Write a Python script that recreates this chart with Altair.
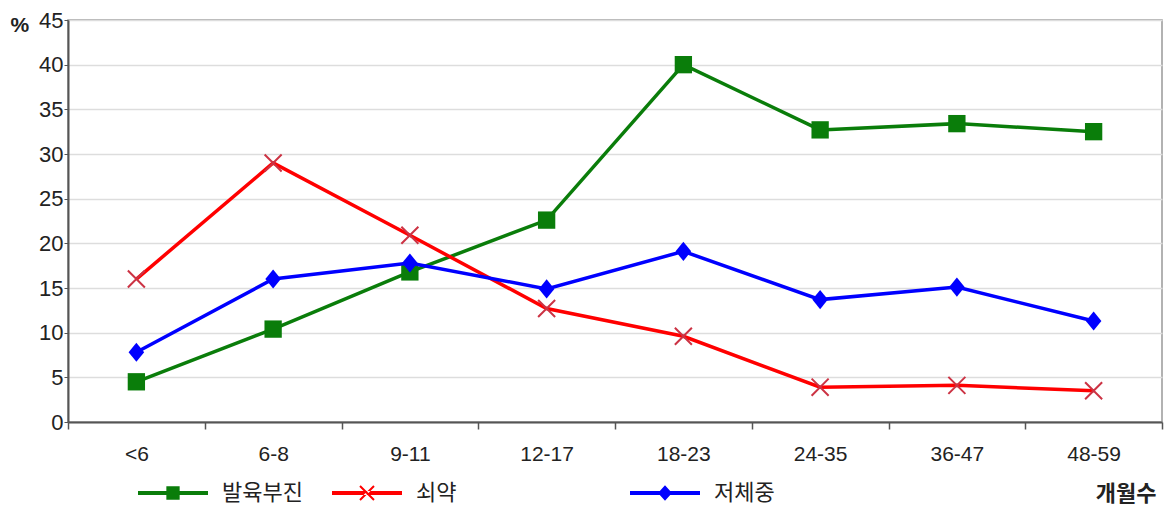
import altair as alt
import pandas as pd

# Age groups in months
age_groups = ["<6", "6-8", "9-11", "12-17", "18-23", "24-35", "36-47", "48-59"]

# Prevalence (%) by age group
stunting = [4.5, 10.4, 16.8, 22.6, 40.0, 32.7, 33.4, 32.5]   # 발육부진
wasting = [16.0, 29.0, 20.9, 12.7, 9.6, 3.9, 4.1, 3.5]       # 쇠약
underweight = [7.8, 16.0, 17.8, 14.9, 19.1, 13.7, 15.1, 11.3]  # 저체중

series_names = ["발육부진", "쇠약", "저체중"]
series_values = [stunting, wasting, underweight]
series_colors = ["#0a7d0a", "#ff0000", "#0000ff"]
marker_colors = ["#0a7d0a", "#cc3344", "#0000ff"]

rows = []
for name, vals in zip(series_names, series_values):
    for g, v in zip(age_groups, vals):
        rows.append({"age": g, "pct": v, "series": name})
df = pd.DataFrame(rows)

NUM_FONT = "Liberation Sans"
KR_FONT = "Noto Sans CJK KR"

x_enc = alt.X(
    "age:N",
    sort=age_groups,
    bandPosition=0.5,
    scale=alt.Scale(type="band", domain=age_groups, paddingInner=0, paddingOuter=0),
    axis=alt.Axis(
        title="개월수",
        titleFont=KR_FONT,
        titleFontSize=22,
        titleFontWeight="bold",
        titleColor="#222222",
        titleAlign="right",
        titleBaseline="middle",
        titleAnchor="end",
        titleX=1088,
        titleY=71,
        labelFont=NUM_FONT,
        labelFontSize=21,
        labelColor="#222222",
        labelPadding=14,
        labelAngle=0,
        tickBand="extent",
        tickSize=7,
        tickColor="#555555",
        tickWidth=1.5,
        domainColor="#555555",
        domainWidth=2,
        grid=False,
    ),
)

y_enc = alt.Y(
    "pct:Q",
    scale=alt.Scale(domain=[0, 45], nice=False),
    axis=alt.Axis(
        title="%",
        titleFont=NUM_FONT,
        titleFontSize=21,
        titleFontWeight="bold",
        titleColor="#222222",
        titleAngle=0,
        titleAlign="left",
        titleBaseline="top",
        titleX=-58,
        titleY=-6,
        values=list(range(0, 46, 5)),
        labelFont=NUM_FONT,
        labelFontSize=22,
        labelColor="#222222",
        labelPadding=1,
        tickSize=4,
        tickColor="#555555",
        domainColor="#555555",
        domainWidth=2,
        gridColor="#dddddd",
        gridWidth=1.5,
    ),
)

# Marker glyphs for the chart and combined line+marker glyphs for the legend
square_m = "M-1,-1H1V1H-1Z"
diamond_m = "M0,-1.1L0.9,0L0,1.1L-0.9,0Z"
x_m = "M-1,-1L1,1M1,-1L-1,1"
chart_shapes = [square_m, x_m, diamond_m]
chart_sizes = [300, 290, 300]

bar = "M-1,-0.06H1V0.06H-1Z"
legend_paths = [
    bar + " M-0.19,-0.19H0.19V0.19H-0.19Z",
    bar + " M-0.22,-0.18L-0.18,-0.22L0.22,0.18L0.18,0.22Z M0.22,-0.18L0.18,-0.22L-0.22,0.18L-0.18,0.22Z",
    bar + " M0,-0.22L0.2,0L0,0.22L-0.2,0Z",
]

base = alt.Chart(df)
layers = []
for name, lcol, mcol, shp, sz in zip(series_names, series_colors, marker_colors,
                                     chart_shapes, chart_sizes):
    sub = base.transform_filter(alt.datum.series == name)
    layers.append(sub.mark_line(strokeWidth=3.5, color=lcol).encode(x=x_enc, y=y_enc))
    if shp == x_m:
        pts = sub.mark_point(shape=shp, filled=False, size=sz, strokeWidth=2,
                             color=mcol, opacity=1)
    else:
        pts = sub.mark_point(shape=shp, filled=True, size=sz, color=mcol,
                             opacity=1, strokeWidth=0)
    layers.append(pts.encode(x=x_enc, y=y_enc))


def legend_part(entries, lx, pad):
    # Legend-only layer: no rows survive the filter; entries come from the scale domain
    return base.transform_filter("false").mark_point(filled=True, opacity=1).encode(
        x=x_enc,
        y=y_enc,
        color=alt.Color(
            "series:N",
            scale=alt.Scale(domain=series_names, range=series_colors),
            legend=alt.Legend(
                title=None,
                values=entries,
                orient="none",
                legendX=lx,
                legendY=438,
                direction="horizontal",
                columns=len(entries),
                columnPadding=pad,
                symbolSize=4900,
                symbolStrokeWidth=0,
                symbolOpacity=1,
                labelFont=KR_FONT,
                labelFontSize=22,
                labelColor="#222222",
                labelOffset=14,
                labelLimit=200,
                padding=0,
            ),
        ),
        shape=alt.Shape("series:N", scale=alt.Scale(domain=series_names, range=legend_paths)),
    )


legend_a = legend_part(series_names[:2], 70, 29)
legend_b = legend_part(series_names[2:], 562, 29)

chart = (
    alt.layer(*layers, legend_a, legend_b)
    .resolve_scale(color="independent", shape="independent")
    .properties(
        width=1094,
        height=402,
        autosize=alt.AutoSizeParams(type="none"),
        padding={"left": 68, "top": 20, "right": 3, "bottom": 97},
        background="white",
    )
    .configure_view(stroke="#999999", strokeWidth=1.5)
)

chart.save("out.html", embed_options={"renderer": "svg", "actions": False})
